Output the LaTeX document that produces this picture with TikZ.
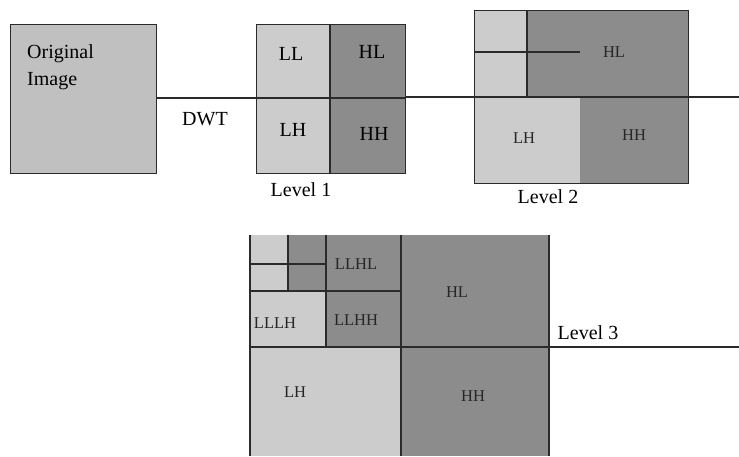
\documentclass[tikz,border=0pt]{standalone}
\usepackage{fontspec}
\setmainfont{Liberation Serif}
\definecolor{lightband}{HTML}{CCCCCC}
\definecolor{darkband}{HTML}{8C8C8C}
\definecolor{origfill}{HTML}{C0C0C0}
\definecolor{edge}{HTML}{2A2A2A}
\begin{document}
\begin{tikzpicture}[
    x=1pt, y=-1pt,
    edgeline/.style={
        draw=edge,
        line width=1.3pt
    },
    biglabel/.style={
        font=\fontsize{20}{27}\selectfont,
        text=black,
        inner sep=0pt
    },
    smalllabel/.style={
        font=\fontsize{16.5}{20}\selectfont,
        text=black!85,
        inner sep=0pt
    }
]

\useasboundingbox (0,0) rectangle (739,456);

% Imagen original
\node[edgeline, fill=origfill, minimum width=146pt, minimum height=149pt,
      inner sep=0pt, anchor=north west] (orig) at (10,24) {};
\node[biglabel, align=left, anchor=north west] (origtext) at (27,44) {Original\\Image};

% Nivel 1
\fill[lightband] (256,24) rectangle (330,173);
\fill[darkband] (330,24) rectangle (405,173);
\node[edgeline, minimum width=149pt, minimum height=149pt,
      inner sep=0pt, anchor=north west] (lvlone) at (256,24) {};
\draw[edgeline] (330,24) -- (330,173);
\node[biglabel] (ll) at (291,54) {LL};
\node[biglabel] (hlone) at (372,52) {HL};
\node[biglabel] (lhone) at (293,130) {LH};
\node[biglabel] (hhone) at (374,134) {HH};
\node[biglabel] (lvlonetext) at (301,190) {Level 1};

% Nivel 2
\fill[lightband] (474,10) rectangle (527,97);
\fill[darkband] (527,10) rectangle (688,97);
\fill[lightband] (474,97) rectangle (580,183);
\fill[darkband] (580,97) rectangle (688,183);
\node[edgeline, minimum width=214pt, minimum height=173pt,
      inner sep=0pt, anchor=north west] (lvltwo) at (474,10) {};
\draw[edgeline] (527,10) -- (527,97);
\draw[edgeline] (474,52) -- (580,52);
\node[smalllabel] (hltwo) at (614,52) {HL};
\node[smalllabel] (lhtwo) at (524,138) {LH};
\node[smalllabel] (hhtwo) at (634,135) {HH};
\node[biglabel] (lvltwotext) at (548,197) {Level 2};

% Conectores DWT
\coordinate (rightend) at (739,97);
\draw[edgeline] (orig.east |- 0,98) -- (lvlone.west |- 0,98);
\draw[edgeline] (lvlone.west |- 0,98) -- (lvlone.east |- 0,98);
\draw[edgeline] (lvlone.east |- 0,97) -- (lvltwo.west |- 0,97);
\draw[edgeline] (lvltwo.west |- 0,97) -- (lvltwo.east |- 0,97) -- (rightend);
\node[biglabel] (dwt) at (205,119) {DWT};

% Nivel 3
\fill[lightband] (250,235) rectangle (288,291);
\fill[darkband] (288,235) rectangle (401,291);
\fill[lightband] (250,291) rectangle (326,347);
\fill[darkband] (326,291) rectangle (401,347);
\fill[darkband] (401,235) rectangle (549,456);
\fill[lightband] (250,347) rectangle (401,456);
\coordinate (lvlthreeleft) at (249,347);
\coordinate (lvlthreeright) at (739,347);
\draw[edgeline] (250,235) -- (250,456);
\draw[edgeline] (401,235) -- (401,456);
\draw[edgeline] (549,235) -- (549,456);
\draw[edgeline] (326,235) -- (326,347);
\draw[edgeline] (288,235) -- (288,291);
\draw[edgeline] (250,264) -- (326,264);
\draw[edgeline] (250,291) -- (401,291);
\draw[edgeline] (lvlthreeleft) -- (lvlthreeright);
\node[smalllabel] (llhl) at (356,264) {LLHL};
\node[smalllabel] (hlthree) at (457,292) {HL};
\node[smalllabel] (lllh) at (275,323) {LLLH};
\node[smalllabel] (llhh) at (356,320) {LLHH};
\node[smalllabel] (lhthree) at (295,392) {LH};
\node[smalllabel] (hhthree) at (473,396) {HH};
\node[biglabel] (lvlthreetext) at (588,333) {Level 3};

\end{tikzpicture}
\end{document}
